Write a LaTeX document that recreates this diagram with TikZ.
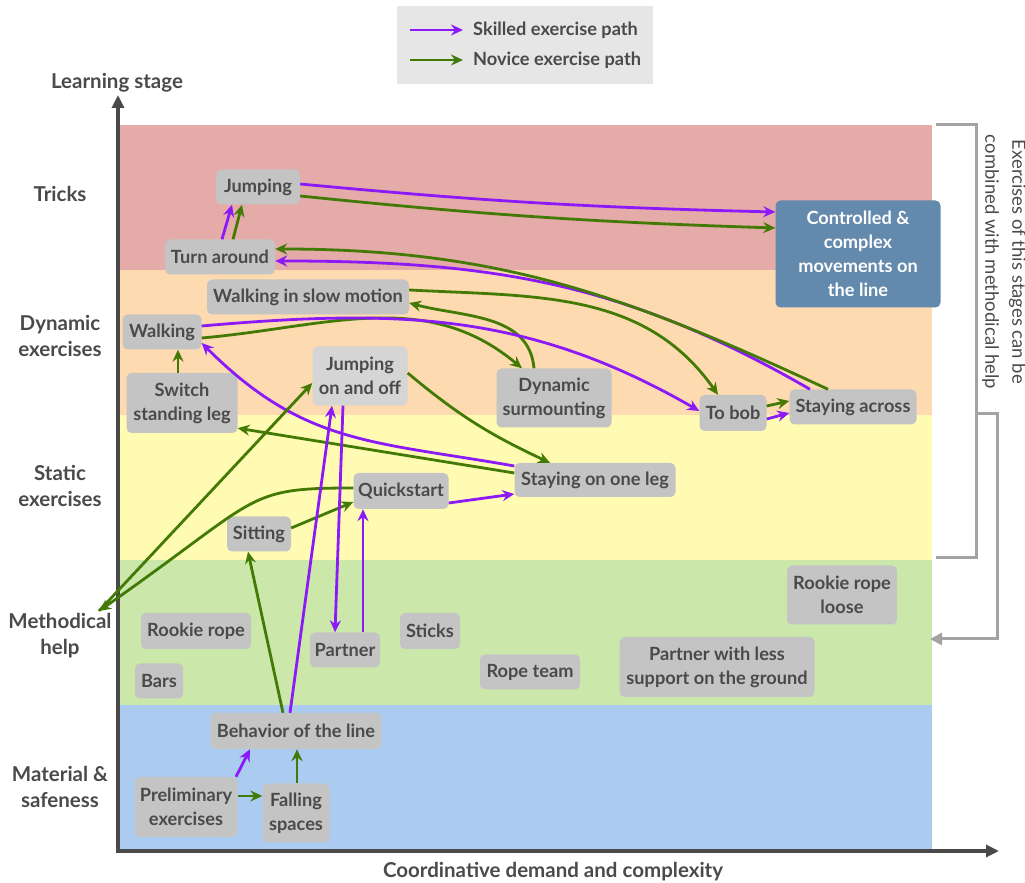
\documentclass[tikz,border=0pt]{standalone}
\usepackage{fontspec}
\setmainfont{Lato}
\usetikzlibrary{arrows.meta}

\definecolor{trickband}{HTML}{E5ABA8}
\definecolor{dynband}{HTML}{FDDAB0}
\definecolor{statband}{HTML}{FFFBB3}
\definecolor{helpband}{HTML}{CBE7AA}
\definecolor{matband}{HTML}{ACCBF0}
\definecolor{boxgray}{HTML}{C4C4C4}
\definecolor{boxlight}{HTML}{D5D5D5}
\definecolor{txtgray}{HTML}{4A4A4A}
\definecolor{skilled}{HTML}{8C1AF8}
\definecolor{novice}{HTML}{437A06}
\definecolor{goalblue}{HTML}{6389AD}
\definecolor{brack}{HTML}{A3A3A3}
\definecolor{legendbg}{HTML}{E6E6E6}
\definecolor{axisgray}{HTML}{4A4A4A}

\begin{document}
\begin{tikzpicture}[x=1pt,y=1pt,
  lbl/.style={text=txtgray,font=\bfseries\fontsize{20.5}{26}\selectfont,align=center,inner sep=0pt},
  ex/.style={fill=boxgray,rounded corners=5pt,text=txtgray,
    font=\bfseries\fontsize{18.2}{24}\selectfont,align=center,inner sep=0pt},
  tip/.style={-{Stealth[length=12pt,width=11pt,inset=4pt]}},
  sk/.style={draw=skilled,line width=2.8pt,tip},
  nv/.style={draw=novice,line width=2.8pt,tip},
  bracket/.style={draw=brack,line width=3pt},
]
\useasboundingbox (0,0) rectangle (1025,883);

% stage bands
\fill[trickband] (118,613) rectangle (932,758);
\fill[dynband]   (118,468) rectangle (932,613);
\fill[statband]  (118,323) rectangle (932,468);
\fill[helpband]  (118,178) rectangle (932,323);
\fill[matband]   (118,32)  rectangle (932,178);

% axes
\draw[axisgray,line width=3.2pt,-{Triangle[length=13pt,width=12pt]}] (118,30.4) -- (118,788);
\draw[axisgray,line width=3.2pt,-{Triangle[length=13pt,width=12pt]}] (116.4,32) -- (999,32);
\node[lbl] (ylab) at (117,800) {Learning stage};
\node[lbl] (xlab) at (553,11) {Coordinative demand and complexity};

% stage labels
\node[lbl] (sTricks) at (60,689) {Tricks};
\node[lbl] (sDyn) at (60,547) {Dynamic\\exercises};
\node[lbl] (sStat) at (60,397) {Static\\exercises};
\node[lbl] (sHelp) at (60,247) {Methodical\\help};
\node[lbl] (sMat) at (60,96) {Material \&\\safeness};
\coordinate (mh) at (99,272);

% legend
\node[fill=legendbg,minimum width=256pt,minimum height=78pt,inner sep=0pt] (legend) at (525,838) {};
\coordinate (lsA) at (410,853);
\coordinate (lsB) at (463,853);
\coordinate (lnA) at (410,823);
\coordinate (lnB) at (463,823);
\draw[sk] (lsA) -- (lsB);
\draw[nv] (lnA) -- (lnB);
\node[ex,fill=none,anchor=west] (lsT) at (473,853) {Skilled exercise path};
\node[ex,fill=none,anchor=west] (lnT) at (473,823) {Novice exercise path};

% brackets on the right
\draw[bracket] (936,758) -- (976,758) -- (976,325) -- (936,325);
\draw[bracket,-{Triangle[length=12pt,width=12pt]}] (976,469) -- (997,469) -- (997,244) -- (930,244);
\node[text=txtgray,font=\fontsize{18.5}{27}\selectfont,align=center,rotate=-90,inner sep=0pt] (note) at (1004,621)
  {Exercises of this stages can be\\combined with methodical help};

% exercises
\node[ex,minimum width=84pt,minimum height=35pt] (jump) at (258,696) {Jumping};
\node[ex,minimum width=110pt,minimum height=35pt] (turn) at (220,626) {Turn around};
\node[ex,minimum width=202pt,minimum height=35pt] (slow) at (308,586) {Walking in slow motion};
\node[ex,minimum width=79pt,minimum height=35pt] (walk) at (162,551) {Walking};
\node[ex,minimum width=111pt,minimum height=60pt] (switch) at (182,480) {Switch\\standing leg};
\node[ex,fill=boxlight,minimum width=95pt,minimum height=59pt] (joao) at (360,507) {Jumping\\on and off};
\node[ex,minimum width=115pt,minimum height=59pt] (dyn) at (554,485) {Dynamic\\surmounting};
\node[ex,minimum width=67pt,minimum height=36pt] (tobob) at (733,470) {To bob};
\node[ex,minimum width=127pt,minimum height=35pt] (across) at (853,476) {Staying across};
\node[ex,fill=goalblue,text=white,minimum width=165pt,minimum height=107pt] (goal) at (858,629)
  {Controlled \&\\complex\\movements on\\the line};
\node[ex,minimum width=161pt,minimum height=34pt] (sool) at (595,403) {Staying on one leg};
\node[ex,minimum width=95pt,minimum height=36pt] (quick) at (401,392) {Quickstart};
\node[ex,minimum width=64pt,minimum height=35pt] (sit) at (259,349) {Sitting};
\node[ex,minimum width=110pt,minimum height=36pt] (rrope) at (196,252) {Rookie rope};
\node[ex,minimum width=48pt,minimum height=35pt] (bars) at (159,202) {Bars};
\node[ex,minimum width=70pt,minimum height=35pt] (partner) at (345,233) {Partner};
\node[ex,minimum width=60pt,minimum height=36pt] (sticks) at (430,252) {Sticks};
\node[ex,minimum width=100pt,minimum height=35pt] (ropeteam) at (530,211) {Rope team};
\node[ex,minimum width=195pt,minimum height=60pt] (plsg) at (717,216) {Partner with less\\support on the ground};
\node[ex,minimum width=110pt,minimum height=59pt] (rrl) at (842,288) {Rookie rope\\loose};
\node[ex,minimum width=171pt,minimum height=36pt] (behav) at (296,152) {Behavior of the line};
\node[ex,minimum width=103pt,minimum height=60pt] (prelim) at (186,76) {Preliminary\\exercises};
\node[ex,minimum width=67pt,minimum height=59pt] (fall) at (296,70) {Falling\\spaces};

% paths between exercises
\draw[sk] ([xshift=2pt]turn.north) -- ([xshift=-26pt]jump.south);
\draw[nv] ([xshift=13pt]turn.north) -- ([xshift=-16pt]jump.south);
\draw[sk] ([yshift=3pt]jump.east) to[bend right=2] ([yshift=42pt]goal.west);
\draw[nv] ([yshift=-9pt]jump.east) to[bend right=2] ([yshift=26pt]goal.west);
\draw[sk] ([xshift=-43pt]across.north) to[out=150,in=0] ([yshift=-4pt]turn.east);
\draw[nv] ([xshift=-25pt]across.north) to[out=155,in=0] ([yshift=8pt]turn.east);
\draw[nv] ([yshift=7pt]slow.east) to[out=-3,in=125] ([xshift=-15pt]tobob.north);
\draw[nv] ([xshift=-20pt]dyn.north) to[out=95,in=-15] ([yshift=-6pt]slow.east);
\draw[nv] ([yshift=-6pt]walk.east) to[out=5,in=140] ([xshift=-32pt]dyn.north);
\draw[sk] ([yshift=6pt]walk.east) to[out=5,in=150] ([yshift=2pt]tobob.west);
\draw[nv] ([yshift=7pt]tobob.east) -- ([yshift=6pt]across.west);
\draw[sk] ([yshift=-6pt]tobob.east) -- ([yshift=-6pt]across.west);
\draw[nv] ([xshift=-4pt]switch.north) -- ([xshift=16pt]walk.south);
\draw[sk] ([yshift=14pt]sool.west) to[out=170,in=-45,looseness=1.1] ([yshift=-11pt]walk.east);
\draw[nv] ([yshift=7pt]sool.west) -- ([yshift=5pt]switch.south east);
\draw[nv] ([yshift=3pt]joao.east) to[out=-40,in=155] ([xshift=-45pt]sool.north);
\draw[sk] ([yshift=-12pt]quick.east) -- ([yshift=-14pt]sool.west);
\draw[nv] ([yshift=3pt]quick.west) .. controls +(-110,0) and +(35:200) .. (mh);
\draw[nv] (mh) -- ([yshift=-7pt]joao.west);
\draw[nv] ([yshift=6pt]sit.east) -- ([yshift=-11pt]quick.west);
\draw[nv] ([xshift=-13pt]behav.north) -- ([xshift=-11pt]sit.south);
\draw[sk] ([xshift=-6pt]behav.north) -- ([xshift=-28pt]joao.south);
\draw[sk] ([xshift=-17pt]joao.south) -- ([xshift=-10pt]partner.north);
\draw[sk] ([xshift=18pt]partner.north) -- ([xshift=-38pt]quick.south);
\draw[sk] ([xshift=50pt]prelim.north) -- ([xshift=-46pt]behav.south);
\draw[nv] ([yshift=11pt]prelim.east) -- ([yshift=17pt]fall.west);
\draw[nv] ([xshift=1pt]fall.north) -- ([xshift=1pt]behav.south);
\end{tikzpicture}
\end{document}
